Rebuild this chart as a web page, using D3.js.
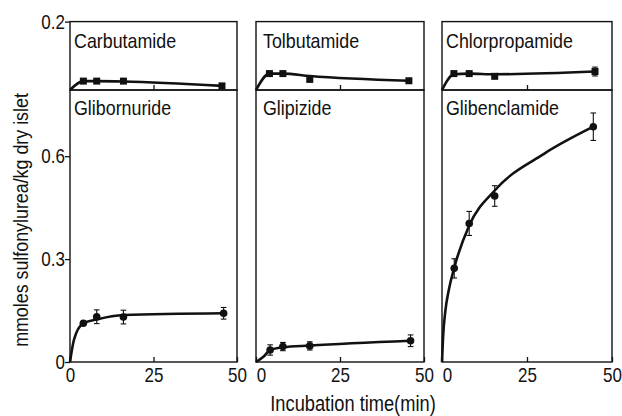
<!DOCTYPE html>
<html>
<head>
<meta charset="utf-8">
<script src="https://d3js.org/d3.v7.min.js"></script>
<style>
  body { margin: 0; background: #fff; }
  .mychart text { font-family: "Liberation Sans", Arial, sans-serif; fill: #111; }
</style>
</head>
<body>
<div id="chart"></div>
<script>
"use strict"

// incubation time (min), mean, error and the drawn fit curve of every panel
var carbutamideTime = [4, 8, 16, 45.5];
var carbutamideMean = [0.026, 0.026, 0.026, 0.012];
var carbutamideErr = [0.006, 0.006, 0.006, 0.005];
var carbutamideCurve = [[0, 0], [4, 0.026], [8, 0.026], [16, 0.025], [45.5, 0.012]];

var tolbutamideTime = [4, 8, 16, 45.5];
var tolbutamideMean = [0.048, 0.048, 0.031, 0.027];
var tolbutamideErr = [0.005, 0.004, 0.004, 0.005];
var tolbutamideCurve = [[0, 0], [4, 0.048], [8, 0.048], [16, 0.041], [45.5, 0.027]];

var chlorpropamideTime = [3.5, 8, 15.5, 45];
var chlorpropamideMean = [0.048, 0.048, 0.040, 0.054];
var chlorpropamideErr = [0.005, 0.004, 0.004, 0.013];
var chlorpropamideCurve = [[0, 0], [3.5, 0.046], [8, 0.048], [15.5, 0.046], [45, 0.054]];

var glibornurideTime = [4, 8, 16, 46];
var glibornurideMean = [0.113, 0.132, 0.131, 0.142];
var glibornurideErr = [0.005, 0.02, 0.02, 0.017];
var glibornurideCurve = [[0, 0], [1.2, 0.065], [4, 0.113], [8, 0.124], [16, 0.137], [46, 0.142]];

var glipizideTime = [4.2, 8, 16, 46];
var glipizideMean = [0.035, 0.045, 0.047, 0.062];
var glipizideErr = [0.015, 0.012, 0.012, 0.017];
var glipizideCurve = [[0, 0], [2.2, 0.015], [4.2, 0.035], [8, 0.043], [16, 0.048], [46, 0.062]];

var glibenclamideTime = [3.6, 8, 15.5, 44.5];
var glibenclamideMean = [0.273, 0.404, 0.484, 0.686];
var glibenclamideErr = [0.028, 0.035, 0.03, 0.04];
var glibenclamideCurve = [[0, 0], [0.3, 0.07], [1, 0.15], [2, 0.21], [3.6, 0.275], [8, 0.398],
                          [15.5, 0.5], [30, 0.607], [44.5, 0.686]];

var drugNames = ["Carbutamide", "Tolbutamide", "Chlorpropamide", "Glibornuride", "Glipizide", "Glibenclamide"];
var xTicks = [0, 25, 50];
var yTicksLow = [0, 0.3, 0.6];
var yTicksHigh = [0.2];

var panels = [
  {name: drugNames[0], t: carbutamideTime, m: carbutamideMean, e: carbutamideErr, fit: carbutamideCurve},
  {name: drugNames[1], t: tolbutamideTime, m: tolbutamideMean, e: tolbutamideErr, fit: tolbutamideCurve},
  {name: drugNames[2], t: chlorpropamideTime, m: chlorpropamideMean, e: chlorpropamideErr, fit: chlorpropamideCurve},
  {name: drugNames[3], t: glibornurideTime, m: glibornurideMean, e: glibornurideErr, fit: glibornurideCurve},
  {name: drugNames[4], t: glipizideTime, m: glipizideMean, e: glipizideErr, fit: glipizideCurve},
  {name: drugNames[5], t: glibenclamideTime, m: glibenclamideMean, e: glibenclamideErr, fit: glibenclamideCurve}
];

var larguraSVG = 622, alturaSVG = 416;
var colunas = [[70, 237], [256, 424], [442, 612]];
var labelOff = [4, 7, 4];
var topY = 21.6, midY = 90, botY = 362;
var ink = "#111";
var estreito = 0.85;   // the figure uses a condensed typeface

var svg = d3.select('#chart')
  .append('svg')
    .attr('class', 'mychart')
    .attr('width', larguraSVG)
    .attr('height', alturaSVG);

var yTop = d3.scaleLinear().domain([0, 0.2]).range([midY, topY]);
var yBot = d3.scaleLinear().domain([0, 0.793]).range([botY, midY]);

function styleAxis(g, size) {
  g.select('.domain').remove();
  g.selectAll('line').attr('stroke', ink).attr('stroke-width', 1.3);
  g.selectAll('text')
    .attr('transform', 'scale(' + estreito + ',1)')
    .style('font-size', size + 'px');
  g.attr('font-family', null).attr('font-size', null);
}

function texto(x, y, rot, size, anchor, str) {
  svg.append('text')
    .attr('transform', 'translate(' + x + ',' + y + ') rotate(' + rot + ') scale(' + estreito + ',1)')
    .style('text-anchor', anchor)
    .style('font-size', size + 'px')
    .text(str);
}

panels.forEach(function(p, i) {
  var col = i % 3, row = Math.floor(i / 3);
  var x = d3.scaleLinear().domain([0, 50]).range(colunas[col]);
  var y = row == 0 ? yTop : yBot;
  var g = svg.append('g');

  // frame
  g.append('rect')
    .attr('x', colunas[col][0])
    .attr('y', row == 0 ? topY : midY)
    .attr('width', colunas[col][1] - colunas[col][0])
    .attr('height', row == 0 ? midY - topY : botY - midY)
    .attr('fill', 'none')
    .attr('stroke', ink)
    .attr('stroke-width', 1.4);

  // inner tick at 25 min
  var ax = g.append('g')
    .attr('transform', 'translate(0,' + (row == 0 ? midY : botY) + ')')
    .call(d3.axisBottom(x).tickValues(row == 0 ? [25] : xTicks)
      .tickSizeInner(-5).tickSizeOuter(0).tickPadding(6)
      .tickFormat(row == 0 ? '' : d => d));
  styleAxis(ax, 20);
  if (row == 1 && col > 0) {
    ax.selectAll('.tick text').filter(d => d == 0).attr('dx', 6);
  }

  if (col == 0) {
    var ay = g.append('g')
      .attr('transform', 'translate(' + colunas[0][0] + ',0)')
      .call(d3.axisLeft(y).tickValues(row == 0 ? yTicksHigh : yTicksLow)
        .tickSizeInner(5).tickSizeOuter(0).tickPadding(1)
        .tickFormat(d => d));
    styleAxis(ay, 20);
  }

  // fitted curve
  g.append('path')
    .datum(p.fit)
    .attr('fill', 'none')
    .attr('stroke', ink)
    .attr('stroke-width', 2.6)
    .attr('d', d3.line()
      .x(d => x(d[0]))
      .y(d => y(d[1]))
      .curve(d3.curveMonotoneX));

  var pts = p.t.map((t, k) => ({t: t, m: p.m[k], e: p.e[k]}));

  // error bars
  var eb = g.selectAll('g.err')
    .data(pts)
    .enter()
    .append('g');
  eb.append('line')
    .attr('x1', d => x(d.t)).attr('x2', d => x(d.t))
    .attr('y1', d => y(d.m - d.e)).attr('y2', d => y(d.m + d.e))
    .attr('stroke', ink).attr('stroke-width', 1.1);
  [-1, 1].forEach(function(s) {
    eb.append('line')
      .attr('x1', d => x(d.t) - 2.8).attr('x2', d => x(d.t) + 2.8)
      .attr('y1', d => y(d.m + s * d.e)).attr('y2', d => y(d.m + s * d.e))
      .attr('stroke', ink).attr('stroke-width', 1.1);
  });

  // markers
  if (row == 0) {
    g.selectAll('rect.pt')
      .data(pts)
      .enter()
      .append('rect')
        .attr('x', d => x(d.t) - 3.5)
        .attr('y', d => y(d.m) - 3.5)
        .attr('width', 7)
        .attr('height', 7)
        .attr('fill', ink);
  } else {
    g.selectAll('circle.pt')
      .data(pts)
      .enter()
      .append('circle')
        .attr('cx', d => x(d.t))
        .attr('cy', d => y(d.m))
        .attr('r', 3.8)
        .attr('fill', ink);
  }

  texto(colunas[col][0] + labelOff[col], row == 0 ? topY + 26 : midY + 24.5, 0, 21, 'start', p.name);
});

texto(28, 220, -90, 21, 'middle', 'mmoles sulfonylurea/kg dry islet');
texto(353, 411, 0, 21.5, 'middle', 'Incubation time(min)');
</script>
</body>
</html>
